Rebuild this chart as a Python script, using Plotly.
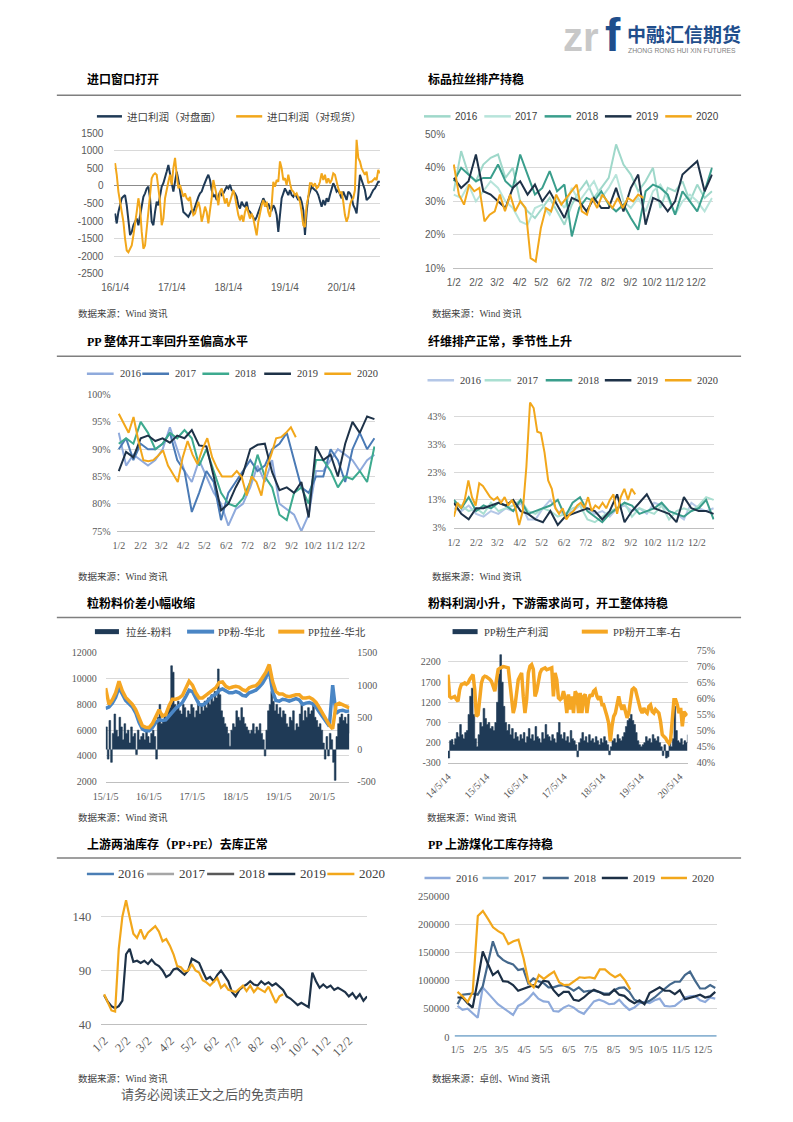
import pandas as pd
import plotly.graph_objects as go

W, H = 793, 1122

# ======================= DATA =======================
p1_start, p1_end = "2016-01-04", "2020-09-08"
import_profit_futures = [
    -785, -1070, -740, -500, -350, -300, -260, -550, -1020, -1400, -1310, -1120, -1020, -930, -1120, -830,
    -550, -310, -210, -70, -20, -350, -1020, -1120, -740, -450, -550, -260, -20, 80, 220, 410, 600, 320, 80,
    -160, 120, 410, 170, -160, -550, -740, -785, -830, -880, -785, -690, -740, -590, -400, -310, -210, -160,
    -20, 120, 220, 320, 170, -115, -310, -260, -400, -310, -160, -260, -210, -115, -20, -70, 30, -115, -160,
    -210, -310, -550, -640, -450, -550, -590, -450, -690, -740, -830, -930, -980, -880, -740, -640, -450,
    -350, -450, -590, -500, -640, -690, -550, -640, -830, -1310, -740, -350, -210, -70, -160, -260, -115,
    -260, -310, -210, -310, -400, -310, -450, -690, -1400, -740, -310, -160, -20, -70, -115, -160, -260,
    -450, -590, -400, -550, -350, -450, -260, -70, 80, -20, -160, -115, -260, -350, -160, -310, -400, -160,
    -210, -310, -550, -640, -785, -260, 320, 170, 30, -115, -400, -350, -310, -210, -115, -70, 30, 120, 120]
import_profit_spot = [
    650, 320, -160, -450, -640, -1020, -1500, -1840, -1890, -1790, -1700, -1410, -1120, -740, -350, -640,
    -1310, -1790, -1700, -1220, -640, -70, 220, 320, 360, 320, -70, -450, -1120, -930, -350, -70, 120, 320,
    30, 510, 800, 320, -70, 30, -160, -310, -210, -350, -400, -310, -640, -830, -785, -590, -450, -640,
    -1020, -830, -590, -740, -1070, -690, -350, 170, -20, -260, -550, -160, -70, -310, -500, -350, -590,
    -450, -310, -115, -310, -590, -830, -980, -830, -1020, -740, -590, -785, -930, -785, -930, -1170, -1410,
    -1020, -740, -550, -400, -590, -450, -740, -880, -550, 120, -20, 170, 120, 700, 510, 170, 220, 30, 320,
    80, -115, -160, -260, -210, -310, -450, -740, -1120, -1170, -550, -310, 80, 80, -20, 80, -70, -20, 120,
    360, 170, 320, 80, 220, 80, 170, 360, 320, 80, -70, -210, -160, -450, -830, -1020, -880, -550, -400,
    -350, -115, 1320, 800, 700, 510, 410, 320, 410, 80, 120, 120, 170, 220, 170, 460, 360]
p1_tick_dates = ["2016-01-04", "2017-01-04", "2018-01-04", "2019-01-04", "2020-01-04"]
p1_tick_text = ["16/1/4", "17/1/4", "18/1/4", "19/1/4", "20/1/4"]
p1_y_ticks = [-2500, -2000, -1500, -1000, -500, 0, 500, 1000, 1500]

p2_2016 = [33, 45, 38, 36, 41, 43, 44, 37, 40, 30, 27, 25, 28, 31, 27, 23, 29, 33, 36, 31, 34, 37, 47, 41,
           38, 33, 36, 40, 28, 34, 33, 36, 30, 35, 31, 33]
p2_2017 = [32, 31, 35, 30, 33, 36, 34, 30, 28, 24, 23, 28, 29, 26, 31, 28, 34, 30, 33, 36, 31, 34, 38, 30,
           28, 31, 27, 33, 35, 31, 26, 30, 32, 30, 27, 31]
p2_2018 = [36, 40, 38, 36, 37, 37, 41, 36, 34, 44, 38, 32, 34, 39, 33, 35, 19.5, 28, 31, 30, 33, 29, 27, 29,
           25, 21.5, 33, 35, 34, 32, 26, 33, 30, 27, 33, 40]
p2_2019 = [37, 34, 36, 44, 33, 32, 30, 28, 34, 36, 32, 35, 30, 33, 29, 25, 31, 30, 27, 31, 28, 28, 34, 27,
           34, 38, 23, 31, 30, 27, 30, 38, 40, 42, 33, 38]
p2_2020 = [41, 32, 29, 35, 33, 34, 24, 26, 27, 32, 27, 32, 27, 30, 28, 13, 12, 22, 28, 27, 32, 29, 31, 33,
           35, 27, 26, 31, 28, 32, 30, 28, 31, 28, 31, 30, 32, 31]
p2_full_end, p2_2020_end = "2020-12-24", "2020-09-20"

p3_2016 = [93, 87, 89, 88, 87, 88, 90, 94, 90, 86, 84, 88, 85, 82, 80, 76, 79, 80, 83, 87, 84, 88, 80, 79,
           78, 75, 78, 86, 86, 88, 90, 89, 88, 86, 88, 89]
p3_2017 = [90, 92, 88, 91, 90, 90, 91, 93, 88, 86, 78.5, 82, 86, 84, 77, 82, 84, 86, 88, 86, 87, 90, 91, 93,
           88, 83, 82, 85, 85, 90, 88, 84, 90, 93, 90, 92]
p3_2018 = [91, 92, 91, 95, 93, 90, 91, 93, 92, 93.5, 92, 87, 90, 86, 82, 80, 79.5, 81, 84, 89, 85, 83, 78, 77,
           82, 83, 80, 88, 88, 86, 83, 85, 84.5, 86, 84, 90.5]
p3_2019 = [86, 89.5, 88.5, 92, 92.5, 91.5, 92, 91.2, 92.5, 92, 93.5, 90.7, 90.5, 85, 78.8, 80, 83, 85.5, 90,
           90.8, 91, 85.8, 82.5, 83, 82, 84, 77.5, 90.5, 88, 89, 85, 91, 95, 93, 96, 95.5]
p3_2020 = [96.5, 94.8, 93, 95.9, 91.5, 88, 87.8, 88, 88.8, 89.8, 87, 85.5, 84, 88.5, 91.5, 89, 87.3, 90, 92,
           88.5, 86.5, 85, 85, 85, 86, 84.9, 81.5, 85, 84, 81.5, 86.5, 89, 92, 92.2, 93, 94, 92.2]
p3_full_end, p3_2020_end = "2020-12-28", "2020-09-08"

p4_2016 = [10, 9, 11, 8, 7, 9, 8, 10, 9, 12, 6, 6, 10, 13, 9, 8, 9, 11, 10, 8, 9, 7, 10, 11, 9, 10, 8, 12,
           11, 9, 8, 6, 12, 10, 9, 10]
p4_2017 = [12, 11, 9, 10, 8, 12, 9, 10, 11, 13, 9, 8, 10, 9, 7, 8, 10, 11, 6, 5, 7, 9, 10, 12, 7, 10, 9, 8,
           11, 6, 9, 10, 9, 11, 14, 13]
p4_2018 = [13, 10, 14, 9, 11, 10, 12, 11, 9, 13, 8, 9, 10, 11, 13, 7, 12, 14, 9, 7, 5, 8, 10, 12, 11, 8, 9,
           10, 12, 9, 8, 7, 9, 10, 13, 6]
p4_2019 = [12, 8, 6, 10, 10, 11, 12, 11, 13, 9, 8, 6, 5, 9, 4, 7, 8, 9, 10, 9, 6, 9, 15, 5, 9, 12, 15, 10, 9,
           8, 5, 14, 10, 9, 9, 8]
p4_2020 = [7, 12, 10, 13, 20, 14, 11, 19, 18, 16, 14, 13, 14, 12, 14, 11, 13, 10, 4, 9, 25, 48, 46, 37.5, 37,
           30, 20, 17, 10, 8, 10, 6, 8, 9, 11, 12, 10, 14, 9, 11, 10, 12, 10, 13, 15, 8, 14, 17, 13, 17, 15]
p4_full_end, p4_2020_end = "2020-12-25", "2020-09-08"

p5_start, p5_end = "2015-01-05", "2020-08-22"
pp_drawn_north = [
    9270, 8000, 8350, 8900, 9790, 9050, 8550, 8300, 8000, 7600, 6900, 6350, 6220, 6200, 6500, 7000, 7580,
    7100, 7200, 7900, 8400, 8400, 8500, 8700, 9300, 9800, 9500, 8900, 8500, 8500, 8700, 8900, 9100, 9300,
    9700, 9750, 9400, 9270, 9350, 9400, 9350, 9150, 9050, 9300, 9400, 9450, 9700, 10050, 10500, 11100,
    9800, 9000, 8800, 8800, 8650, 8600, 8700, 8750, 8750, 8500, 8500, 8550, 8400, 8150, 7750, 7300, 6900,
    6400, 6100, 7980, 8100, 7980, 7850, 7720]
pp_powder_north = [
    7700, 7800, 8100, 8550, 9300, 8800, 8300, 8050, 7800, 7350, 6600, 6100, 5950, 5950, 6200, 6600, 6800,
    6750, 6800, 7100, 7450, 7700, 7900, 8150, 8600, 9100, 9000, 8550, 8000, 7950, 8100, 8400, 8650, 8800,
    9100, 9200, 9050, 8900, 8900, 9000, 8900, 8700, 8650, 8900, 9000, 9100, 9350, 9650, 10100, 10700,
    9000, 8300, 8250, 8400, 8350, 8250, 8350, 8450, 8350, 8000, 8100, 8150, 8050, 7800, 7400, 7000, 6700,
    6300, 9500, 7300, 7500, 7550, 7450, 7500]
drawn_minus_powder = [
    350, -150, 450, -200, 250, 550, 300, 200, 500, 350, 150, 400, 250, 300, 100, 350, 200, 250, -80, 300,
    150, 200, 250, 150, 300, 200, 100, 250, 300, 200, -150, 500, 700, 400, 450, 550, 500, 600, 650, 1300,
    1200, 700, 650, 750, 600, 550, 700, 650, 500, 600, 550, 700, 650, 500, 600, 750, 550, 700, 600, 750,
    650, 800, 700, 850, 750, 900, 800, 1250, 850, 600, 500, 400, 350, 250, 50, 300, 400, 350, 600, 500,
    450, 650, 500, 400, 350, 300, 250, 300, 400, 250, 350, 300, 400, 250, 150, -100, 300, 600, 700, 900,
    750, 600, 700, 550, 650, 500, 600, 550, 400, 350, 500, 450, 600, 300, 400, 350, 550, 700, 450, 600,
    500, 650, 550, 600, 700, 500, 450, 350, 400, 300, 100, -150, 200, -100, 250, 150, -200, -480, 200, 400,
    500, 550, 450, 500, 400, 550, 250]
p5_tick_dates = ["2015-01-05", "2016-01-05", "2017-01-05", "2018-01-05", "2019-01-05", "2020-01-05"]
p5_tick_text = ["15/1/5", "16/1/5", "17/1/5", "18/1/5", "19/1/5", "20/1/5"]
p5_left_ticks = [2000, 4000, 6000, 8000, 10000, 12000]
p5_right_ticks = [-500, 0, 500, 1000, 1500]

p6_start, p6_end = "2014-05-14", "2020-07-24"
powder_profit = [
    -180, 250, 280, 150, 300, 450, 350, 650, 400, 300, 450, 500, 900, 1350, 1550, 900, 300, 100, 400, 700,
    600, 1050, 800, 650, 700, 550, 600, 500, 700, 1200, 1900, 2380, 1700, 1100, 700, 500, 650, 400, 550,
    300, 450, 350, 250, 400, 300, 450, 200, 350, 550, 300, 400, 250, 600, 350, 300, 200, 450, 300, 650,
    400, 350, 250, 400, 300, 200, 450, 700, 400, 300, 450, 250, 350, 200, 500, 300, 250, 150, -150, 200,
    300, 450, 250, 350, 200, 400, 250, 300, 200, 350, 250, 150, 300, 200, 350, 250, 150, -100, 100, 250,
    300, 200, 400, 300, 250, 350, 450, 600, 750, 800, 900, 750, 650, 450, 250, 150, 100, 150, 200, 350,
    250, 300, 200, 400, 300, 250, 350, 200, 100, -120, 150, -180, -150, 200, 100, 300, 1100, 500, 250,
    200, 300, 150, 250, 200, 400]
powder_run_rate = [
    67.5, 60.7, 60.2, 60.5, 60.7, 59.8, 59.2, 62.8, 64.4, 64.6, 64.9, 64.5, 64.9, 66.0, 67.0, 67.5, 62.8,
    54.5, 55.0, 60.7, 64.9, 66.5, 67.0, 66.8, 66.5, 66.0, 65.4, 64.0, 62.3, 65.9, 69.1, 69.5, 69.9, 70.0,
    69.9, 69.8, 69.6, 64.9, 59.7, 55.5, 57.6, 62.8, 65.9, 67.0, 68.0, 60.7, 55.5, 59.7, 68.0, 70.1, 70.6,
    69.1, 60.7, 62.3, 65.9, 68.0, 69.1, 69.4, 69.6, 69.0, 69.3, 69.5, 69.6, 60.7, 68.0, 65.9, 60.2, 59.7,
    60.2, 62.3, 60.2, 55.5, 61.3, 56.6, 60.7, 55.5, 62.3, 61.3, 55.5, 61.8, 55.5, 60.7, 61.3, 55.5, 59.7,
    61.3, 60.7, 62.3, 62.8, 60.7, 59.7, 60.7, 58.1, 58.1, 56.6, 54.5, 52.4, 46.7, 51.4, 54.5, 55.5, 57.6,
    60.7, 58.1, 56.6, 58.1, 55.5, 54.0, 55.5, 59.7, 62.8, 63.3, 62.8, 60.7, 58.1, 56.6, 55.5, 57.1, 56.0,
    55.5, 57.6, 58.1, 56.0, 55.5, 56.6, 56.0, 55.5, 52.9, 48.8, 48.2, 47.7, 46.7, 46.1, 47.2, 55.5, 59.7,
    59.7, 58.1, 55.5, 57.1, 51.4, 56.0, 55.0, 55.5]
p6_tick_dates = ["2014-05-14", "2015-05-14", "2016-05-14", "2017-05-14", "2018-05-14", "2019-05-14",
                 "2020-05-14"]
p6_tick_text = ["14/5/14", "15/5/14", "16/5/14", "17/5/14", "18/5/14", "19/5/14", "20/5/14"]
p6_left_ticks = [-300, 200, 700, 1200, 1700, 2200]
p6_right_ticks = [40, 45, 50, 55, 60, 65, 70, 75]

p7_2019 = [67, 61, 57, 55, 57, 62, 105, 110, 98, 99, 97, 99, 96, 100, 96, 94, 90, 84, 86, 91, 92, 89, 86, 90,
           101, 99, 97, 89, 82, 84, 80, 86, 90, 85, 80, 70, 66, 72, 75, 77, 80, 77, 76, 80, 77, 79, 76, 78,
           75, 72, 66, 64, 61, 58, 60, 58, 56, 88, 80, 74, 77, 74, 76, 72, 74, 72, 70, 66, 69, 64, 68, 62, 66]
p7_2020 = [68, 60, 53, 52, 110, 140, 155, 139, 124, 120, 128, 119, 125, 128, 131, 126, 117, 119, 113, 105,
           94, 93, 89, 90, 96, 90, 88, 81, 79, 76, 80, 83, 74, 77, 72, 71, 70, 73, 76, 71, 76, 70, 74, 72, 70,
           75, 68, 60, 66, 68]
p7_y_ticks = [40, 90, 140]

p8_2016 = [55000, 48000, 50000, 42000, 34000, 88000, 77000, 68000, 58000, 52000, 45000, 39000, 55000, 60000,
           68000, 78000, 68000, 63000, 62000, 46000, 45000, 52000, 56000, 52000, 45000, 41000, 52000, 63000,
           66000, 63000, 58000, 59000, 66000, 56000, 48000, 52000, 60000, 62000, 60000, 65000, 68000, 55000,
           54000, 55000, 62000, 70000, 72000, 73000, 65000, 62000, 70000, 68000]
p8_2017 = [0, 0, 0, 0, 0, 0, 0, 0, 0, 0, 0, 0]
p8_2018 = [58000, 75000, 76000, 77000, 75000, 90000, 130000, 170000, 145000, 137000, 132000, 129000, 119000,
           121000, 95000, 104000, 99000, 96000, 88000, 88000, 91000, 92000, 88000, 82000, 88000, 80000, 82000,
           82000, 80000, 77000, 77000, 83000, 87000, 88000, 80000, 66000, 62000, 60000, 64000, 70000, 78000,
           86000, 93000, 98000, 98000, 110000, 116000, 100000, 86000, 86000, 92000, 87000]
p8_2019 = [70000, 70000, 60000, 52000, 100000, 152000, 130000, 110000, 117000, 99000, 98000, 92000, 82000,
           85000, 88000, 92000, 88000, 100000, 98000, 83000, 73000, 80000, 80000, 66000, 64000, 70000, 78000,
           84000, 80000, 75000, 75000, 84000, 75000, 73000, 65000, 60000, 65000, 58000, 78000, 83000, 88000,
           82000, 82000, 76000, 83000, 67000, 69000, 72000, 75000, 70000, 72000, 80000]
p8_2020 = [80000, 72000, 62000, 80000, 215000, 224000, 210000, 195000, 188000, 183000, 165000, 170000,
           173000, 140000, 97000, 88000, 110000, 103000, 110000, 116000, 97000, 92000, 93000, 100000, 106000,
           105000, 106000, 104000, 120000, 120000, 112000, 106000, 111000, 100000, 84000]
p8_y_ticks = [0, 50000, 100000, 150000, 200000, 250000]

years = ["2016", "2017", "2018", "2019", "2020"]
month_ticks_2 = ["2020-%02d-02" % m for m in range(1, 13)]
month_text_2 = ["%d/2" % m for m in range(1, 13)]
month_ticks_5 = ["2020-%02d-05" % m for m in range(1, 13)]
month_text_5 = ["%d/5" % m for m in range(1, 13)]

# ======================= STYLE =======================
NAVY = "#1f3a56"
ORANGE = "#f2a71b"
GRID = "#d9d9d9"
AXIS = "#bfbfbf"
TICK = "#595959"
LEGTXT = "#404040"
SANS = "Liberation Sans, Arial, Noto Sans CJK SC, sans-serif"
SERIF = "Liberation Serif, Times New Roman, Noto Sans CJK SC, serif"
CJK = "Noto Sans CJK SC, sans-serif"

p2_colors = ["#9fd8ca", "#b7e4da", "#3a9e8c", "#1e3248", ORANGE]
p3_colors = ["#8faadc", "#4a7ab5", "#3daa8f", "#1e3248", ORANGE]
p4_colors = ["#b4c7e7", "#a9dfd1", "#3a9e8c", "#1e3248", ORANGE]
p7_colors = ["#4a7eb5", "#a6a6a6", "#595959", "#1e3248", ORANGE]
p8_colors = ["#8eaadb", "#8db4d3", "#44688c", "#1c2f45", ORANGE]

# page placement: the viewer shows the figure offset and slightly scaled,
# so target page coordinates are mapped back into figure pixels here
OX, SX, OY, SY = 33.2, 0.968, 15.0, 0.985


def X(x):
    return ((x - OX) / SX) / W


def Y(y):
    return 1 - ((y - OY) / SY) / H


def xdom(a, b):
    return [X(a), X(b)]


def ydom(top, bottom):
    return [Y(bottom), Y(top)]


fig = go.Figure()
axes = {}
shapes = []
annotations = []


def xaxis(name, anchor, dom, rng, tvals, ttext, font, showline=True, angle=0, standoff=4):
    axes[name] = dict(domain=dom, anchor=anchor, type="date", range=rng, tickmode="array",
                      tickvals=tvals, ticktext=ttext, tickfont=font, showgrid=False, zeroline=False,
                      showline=showline, linecolor=AXIS, linewidth=1, ticks="", tickangle=angle,
                      ticklabelstandoff=standoff)


def yaxis(name, anchor, dom, rng, tvals, ttext, font, grid=True, side="left", overlaying=None,
          standoff=6, zeroline=False):
    d = dict(anchor=anchor, range=rng, tickmode="array", tickvals=tvals, ticktext=ttext, tickfont=font,
             showgrid=grid, gridcolor=GRID, gridwidth=1, zeroline=zeroline, zerolinecolor="#8c8c8c",
             zerolinewidth=1, showline=False, ticks="", side=side, ticklabelstandoff=standoff)
    if overlaying:
        d["overlaying"] = overlaying
    else:
        d["domain"] = dom
    axes[name] = d


def line(x, y, color, width, xa, ya):
    fig.add_trace(go.Scatter(x=x, y=y, mode="lines", line=dict(color=color, width=width),
                             xaxis=xa, yaxis=ya, showlegend=False, hoverinfo="skip"))


def area(x, y, color, xa, ya):
    fig.add_trace(go.Scatter(x=x, y=y, mode="lines", fill="tozeroy", fillcolor=color,
                             line=dict(color=color, width=0.6, shape="hv"),
                             xaxis=xa, yaxis=ya, showlegend=False, hoverinfo="skip"))


def leg_line(x0, x1, y, color, width, label, font, gap=3):
    shapes.append(dict(type="line", xref="paper", yref="paper", x0=X(x0), x1=X(x1), y0=Y(y), y1=Y(y),
                       line=dict(color=color, width=width)))
    annotations.append(dict(text=label, x=X(x1 + gap), y=Y(y), xref="paper", yref="paper", xanchor="left",
                            yanchor="middle", showarrow=False, font=font))


def leg_box(x0, x1, y, h, color, label, font, gap=4):
    shapes.append(dict(type="rect", xref="paper", yref="paper", x0=X(x0), x1=X(x1), y0=Y(y + h / 2),
                       y1=Y(y - h / 2), fillcolor=color, line=dict(width=0)))
    annotations.append(dict(text=label, x=X(x1 + gap), y=Y(y), xref="paper", yref="paper", xanchor="left",
                            yanchor="middle", showarrow=False, font=font))


def text(t, x, y, font, xanchor="left"):
    annotations.append(dict(text=t, x=X(x), y=Y(y), xref="paper", yref="paper", xanchor=xanchor,
                            yanchor="middle", showarrow=False, font=font))


def hline(x0, x1, y, color, width):
    shapes.append(dict(type="line", xref="paper", yref="paper", x0=X(x0), x1=X(x1), y0=Y(y), y1=Y(y),
                       line=dict(color=color, width=width)))


f_sans10 = dict(family=SANS, size=10, color=TICK)
f_serif10 = dict(family=SERIF, size=10, color=TICK)

# Panel 1
line(pd.date_range(p1_start, p1_end, periods=len(import_profit_futures)), import_profit_futures, NAVY, 2, "x", "y")
line(pd.date_range(p1_start, p1_end, periods=len(import_profit_spot)), import_profit_spot, ORANGE, 2, "x", "y")
xaxis("xaxis", "y", xdom(115.5, 380.5), ["2015-12-31", "2020-09-08"], p1_tick_dates, p1_tick_text,
      f_sans10, showline=False, standoff=6)
yaxis("yaxis", "x", ydom(134, 273.7), [-2500, 1500], p1_y_ticks, [str(v) for v in p1_y_ticks], f_sans10,
      zeroline=True, standoff=10)
lf = dict(family=CJK, size=10.5, color=LEGTXT)
leg_line(98, 123, 117, NAVY, 2.5, "进口利润（对盘面）", lf)
leg_line(237, 263, 117, ORANGE, 2.5, "进口利润（对现货）", lf)

# Panel 2
for vals, c in zip([p2_2016, p2_2017, p2_2018, p2_2019], p2_colors[:4]):
    line(pd.date_range("2020-01-02", p2_full_end, periods=len(vals)), vals, c, 2, "x2", "y2")
line(pd.date_range("2020-01-02", p2_2020_end, periods=len(p2_2020)), p2_2020, ORANGE, 2, "x2", "y2")
xaxis("xaxis2", "y2", xdom(453.5, 712.7), ["2020-01-01", "2020-12-25"], month_ticks_2, month_text_2,
      f_sans10, standoff=5)
yaxis("yaxis2", "x2", ydom(135, 268.3), [10, 50], [10, 20, 30, 40, 50],
      ["%d%%" % v for v in [10, 20, 30, 40, 50]], f_sans10, standoff=7)
lf2 = dict(family=SANS, size=10, color=LEGTXT)
for i, (yr, c) in enumerate(zip(years, p2_colors)):
    leg_line(424.5 + 60.2 * i, 451 + 60.2 * i, 117, c, 2.5, yr, lf2, gap=2.5)

# Panel 3
for vals, c in zip([p3_2016, p3_2017, p3_2018, p3_2019], p3_colors[:4]):
    line(pd.date_range("2020-01-02", p3_full_end, periods=len(vals)), vals, c, 2, "x3", "y3")
line(pd.date_range("2020-01-02", p3_2020_end, periods=len(p3_2020)), p3_2020, ORANGE, 2, "x3", "y3")
xaxis("xaxis3", "y3", xdom(117.7, 375.7), ["2019-12-30", "2020-12-29"], month_ticks_2, month_text_2,
      f_serif10, standoff=5)
yaxis("yaxis3", "x3", ydom(394.3, 530.3), [75, 100], [75, 80, 85, 90, 95, 100],
      ["%d%%" % v for v in [75, 80, 85, 90, 95, 100]], f_serif10, standoff=5)
lf3 = dict(family=SERIF, size=10.5, color=LEGTXT)
for x0, yr, c in zip([88, 143.3, 203.3, 265, 325], years, p3_colors):
    leg_line(x0, x0 + 26.7, 373.5, c, 2.5, yr, lf3, gap=4)

# Panel 4
for vals, c in zip([p4_2016, p4_2017, p4_2018, p4_2019], p4_colors[:4]):
    line(pd.date_range("2020-01-02", p4_full_end, periods=len(vals)), vals, c, 2, "x4", "y4")
line(pd.date_range("2020-01-02", p4_2020_end, periods=len(p4_2020)), p4_2020, ORANGE, 2, "x4", "y4")
xaxis("xaxis4", "y4", xdom(454.3, 714.3), ["2020-01-02", "2020-12-26"], month_ticks_2, month_text_2,
      f_serif10, standoff=5)
yaxis("yaxis4", "x4", ydom(401.3, 527), [3, 48.3], [3, 13, 23, 33, 43],
      ["%d%%" % v for v in [3, 13, 23, 33, 43]], f_serif10, standoff=7)
for x0, yr, c in zip([428, 485, 546, 605, 665], years, p4_colors):
    leg_line(x0, x0 + 26.5, 380, c, 2.5, yr, lf3, gap=4)

# Panel 5
area(pd.date_range(p5_start, p5_end, periods=len(drawn_minus_powder)), drawn_minus_powder, NAVY, "x5", "y5")
line(pd.date_range(p5_start, p5_end, periods=len(pp_powder_north)), pp_powder_north, "#4a86c5", 3.5, "x5", "y6")
line(pd.date_range(p5_start, p5_end, periods=len(pp_drawn_north)), pp_drawn_north, "#f5a623", 3.5, "x5", "y6")
xaxis("xaxis5", "y5", xdom(106.7, 350), ["2015-01-05", "2020-08-22"], p5_tick_dates, p5_tick_text,
      f_serif10, standoff=5)
yaxis("yaxis5", "x5", ydom(651.7, 780), [-500, 1500], p5_right_ticks, [str(v) for v in p5_right_ticks],
      f_serif10, grid=False, side="right", standoff=7)
yaxis("yaxis6", "x5", None, [2000, 12000], p5_left_ticks, [str(v) for v in p5_left_ticks], f_serif10,
      grid=True, side="left", overlaying="y5", standoff=8)
lf5 = dict(family=SERIF, size=10.5, color=LEGTXT)
leg_box(96, 120, 630.5, 5, NAVY, "拉丝-粉料", lf5, gap=5)
leg_line(188, 215, 630.5, "#4a86c5", 4, "PP粉-华北", lf5, gap=2)
leg_line(279, 305, 630.5, "#f5a623", 4, "PP拉丝-华北", lf5, gap=2)

# Panel 6
area(pd.date_range(p6_start, p6_end, periods=len(powder_profit)), powder_profit, NAVY, "x6", "y7")
line(pd.date_range(p6_start, p6_end, periods=len(powder_run_rate)), powder_run_rate, "#f5a623", 3.5, "x6", "y8")
xaxis("xaxis6", "y7", xdom(448.3, 687.7), ["2014-05-13", "2020-07-27"], p6_tick_dates, p6_tick_text,
      dict(family=SERIF, size=10, color=TICK), angle=-45, standoff=3)
yaxis("yaxis7", "x6", ydom(649.3, 761.3), [-300, 2484], p6_left_ticks, [str(v) for v in p6_left_ticks],
      f_serif10, grid=True, side="left", standoff=6)
yaxis("yaxis8", "x6", None, [40, 75], p6_right_ticks, ["%d%%" % v for v in p6_right_ticks], f_serif10,
      grid=False, side="right", overlaying="y7", standoff=8)
leg_box(453, 478, 630.5, 5, NAVY, "PP粉生产利润", lf5, gap=4)
leg_line(582, 608, 630.5, "#f5a623", 4, "PP粉开工率-右", lf5, gap=3)

# Panel 7
line(pd.date_range("2020-01-02", periods=len(p7_2019), freq="5D"), p7_2019, p7_colors[3], 2.2, "x7", "y9")
line(pd.date_range("2020-01-02", periods=len(p7_2020), freq="5D"), p7_2020, ORANGE, 2.2, "x7", "y9")
f_serif12 = dict(family=SERIF, size=12.5, color=TICK)
xaxis("xaxis7", "y9", xdom(102.3, 367.7), ["2019-12-29", "2020-12-27"], month_ticks_2, month_text_2,
      f_serif12, angle=-45, standoff=3)
yaxis("yaxis9", "x7", ydom(887.4, 1022), [40, 165], p7_y_ticks, [str(v) for v in p7_y_ticks], f_serif12,
      standoff=9)
lf7 = dict(family=SERIF, size=13, color=LEGTXT)
for x0, yr, c in zip([88, 148, 208, 269, 328], years, p7_colors):
    leg_line(x0, x0 + 27, 872, c, 2.5, yr, lf7, gap=2.5)

# Panel 8
line(pd.date_range("2020-01-05", "2020-12-22", periods=len(p8_2016)), p8_2016, p8_colors[0], 2.2, "x8", "y10")
line(pd.date_range("2020-01-01", "2020-12-24", periods=len(p8_2017)), p8_2017, p8_colors[1], 3.5, "x8", "y10")
line(pd.date_range("2020-01-05", "2020-12-22", periods=len(p8_2018)), p8_2018, p8_colors[2], 2.2, "x8", "y10")
line(pd.date_range("2020-01-05", "2020-12-22", periods=len(p8_2019)), p8_2019, p8_colors[3], 2.2, "x8", "y10")
line(pd.date_range("2020-01-05", "2020-08-28", periods=len(p8_2020)), p8_2020, ORANGE, 2.2, "x8", "y10")
xaxis("xaxis8", "y10", xdom(455, 716.7), ["2020-01-01", "2020-12-24"], month_ticks_5, month_text_5,
      dict(family=SERIF, size=10.5, color=TICK), showline=False, standoff=5)
yaxis("yaxis10", "x8", ydom(894.3, 1034.3), [0, 250000], p8_y_ticks, [str(v) for v in p8_y_ticks],
      dict(family=SERIF, size=10.5, color=TICK), standoff=4)
lf8 = dict(family=SERIF, size=11, color=LEGTXT)
for x0, yr, c in zip([425, 483, 543, 602, 661], years, p8_colors):
    leg_line(x0, x0 + 26, 876, c, 2.5, yr, lf8, gap=3)

# page furniture
title_font = dict(family="Liberation Serif, Noto Sans CJK SC, serif", size=12, color="#000000")
for t, x, y in [("进口窗口打开", 86, 80), ("标品拉丝排产持稳", 426, 80),
                ("PP 整体开工率回升至偏高水平", 86, 341.5), ("纤维排产正常，季节性上升", 426, 341.5),
                ("粒粉料价差小幅收缩", 86, 602.5), ("粉料利润小升，下游需求尚可，开工整体持稳", 426, 602.5),
                ("上游两油库存（PP+PE）去库正常", 86, 842.5), ("PP 上游煤化工库存持稳", 426, 842.5)]:
    text("<b>%s</b>" % t, x, y, title_font)
for y in [96, 356, 616.5, 856]:
    hline(58, 741, y, "#7f7f7f", 1.5)
src_font = dict(family="Liberation Serif, Noto Sans CJK SC, serif", size=9.5, color="#404040")
for t, x, y in [("数据来源：Wind 资讯", 77, 313), ("数据来源：Wind 资讯", 430, 313),
                ("数据来源：Wind 资讯", 77, 576), ("数据来源：Wind 资讯", 430, 576),
                ("数据来源：Wind 资讯", 77, 815.5), ("数据来源：Wind 资讯", 425, 815.5),
                ("数据来源：Wind 资讯", 77, 1076), ("数据来源：卓创、Wind 资讯", 430, 1076)]:
    text(t, x, y, src_font)
text("请务必阅读正文之后的免责声明", 120, 1091, dict(family=CJK, size=13, color="#595959"))

text("<b>zr</b>", 561, 38, dict(family=SANS, size=40, color="#c8c8c8"))
text("<b>f</b>", 603, 36, dict(family=SANS, size=46, color="#1f4e8c"))
text("<b>中融汇信期货</b>", 625, 34, dict(family=CJK, size=19, color="#1f4e8c"))
text("ZHONG RONG HUI XIN FUTURES", 626, 51, dict(family=SANS, size=6.8, color="#7f7f7f"))

fig.update_layout(width=W, height=H, margin=dict(l=0, r=0, t=0, b=0), paper_bgcolor="white",
                  plot_bgcolor="white", showlegend=False, shapes=shapes,
                  annotations=annotations, **axes)
fig.write_html("out.html")
